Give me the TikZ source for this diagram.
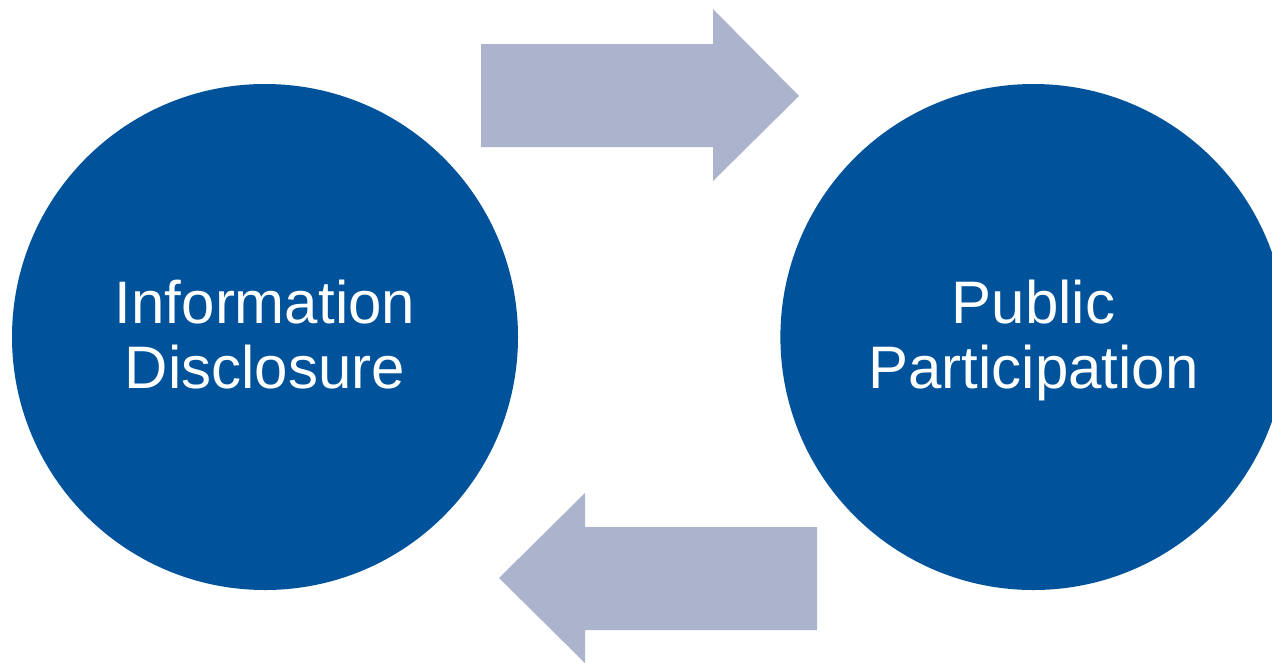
\documentclass[tikz,border=0pt]{standalone}
\usepackage{fontspec}
\setmainfont{Liberation Sans}
\usetikzlibrary{positioning}

\definecolor{discblue}{RGB}{0,83,155}
\definecolor{flowgrey}{RGB}{171,179,205}

\begin{document}
\begin{tikzpicture}[x = 1pt, y = -1pt,
        topic/.style = {circle, fill = discblue, text = white, minimum size = 506pt, inner sep = 0pt,
                        align = center, font = \fontsize{60}{65}\selectfont, text height = 109pt, text depth = 6pt},
        flow/.style  = {fill = flowgrey}]
                \useasboundingbox (0, 0) rectangle (1272, 662);
                \fill[white] (0, 0) rectangle (1272, 662);

                \node[topic]                         (info) at (265, 337) {Information\\Disclosure};
                \node[topic, right = 262pt of info]  (part)               {Public\\Participation};

                % arrow from disclosure to participation
                \coordinate (top_s) at (481, 96);
                \fill[flow] (top_s) ++(0, -52) -- ++(232, 0) -- ++(0, -35) -- (799, 96)
                    -- (713, 181) -- ++(0, -34) -- ++(-232, 0) -- cycle;

                % arrow back
                \coordinate (bot_s) at (817, 578);
                \fill[flow] (bot_s) ++(0, -51) -- ++(-232, 0) -- ++(0, -34) -- (499, 578)
                    -- (585, 663) -- ++(0, -33) -- ++(232, 0) -- cycle;
            \end{tikzpicture}
\end{document}
